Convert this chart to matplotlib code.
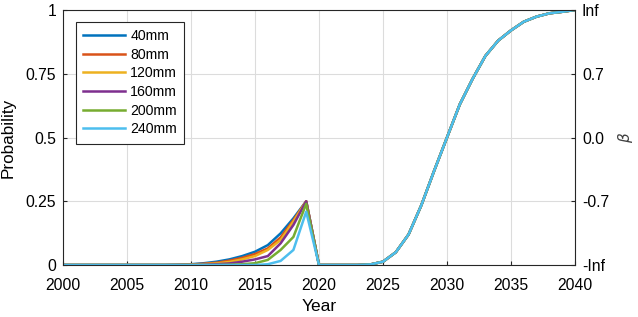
import numpy as np
import matplotlib.pyplot as plt

years = np.arange(2000, 2041)
labels = ["40mm", "80mm", "120mm", "160mm", "200mm", "240mm"]
colors = ["#0072BD", "#D95319", "#EDB120", "#7E2F8E", "#77AC30", "#4DBEEE"]

# 2000-2008 are zero for every series
zeros_early = [0.0] * 9
# 2009 .. 2019 rising part, one list per diameter
rise_40 = [0.001, 0.003, 0.007, 0.013, 0.022, 0.035, 0.052, 0.078, 0.124, 0.183, 0.25]
rise_80 = [0.001, 0.002, 0.005, 0.009, 0.017, 0.028, 0.043, 0.065, 0.108, 0.176, 0.25]
rise_120 = [0.0, 0.001, 0.003, 0.006, 0.012, 0.022, 0.035, 0.059, 0.098, 0.170, 0.25]
rise_160 = [0.0, 0.0, 0.001, 0.003, 0.006, 0.013, 0.022, 0.035, 0.085, 0.157, 0.25]
rise_200 = [0.0, 0.0, 0.0, 0.0, 0.001, 0.003, 0.007, 0.020, 0.059, 0.110, 0.24]
rise_240 = [0.0, 0.0, 0.0, 0.0, 0.0, 0.0, 0.0, 0.003, 0.016, 0.059, 0.209]
# 2020 .. 2040 shared tail
tail = [0.0, 0.0, 0.0, 0.0, 0.002, 0.013, 0.05, 0.12, 0.235, 0.37, 0.5,
        0.63, 0.73, 0.82, 0.88, 0.92, 0.954, 0.974, 0.987, 0.993, 1.0]

rises = [rise_40, rise_80, rise_120, rise_160, rise_200, rise_240]

plt.rcParams['font.family'] = ['Liberation Sans', 'DejaVu Sans']

fig = plt.figure(figsize=(6.38, 3.17), dpi=100)
ax = fig.add_axes([63 / 638, 52 / 317, 512 / 638, 255 / 317])

for lab, col, r in zip(labels, colors, rises):
    ax.plot(years, zeros_early + r + tail, color=col, lw=1.8, label=lab)

ax.set_xlim(2000, 2040)
ax.set_ylim(0, 1)
ax.set_xticks(np.arange(2000, 2041, 5))
ax.set_yticks([0, 0.25, 0.5, 0.75, 1])
ax.set_yticklabels(["0", "0.25", "0.5", "0.75", "1"])
ax.grid(True, color="#dcdcdc", lw=0.8)
ax.tick_params(direction="in", labelsize=11.3, length=3, color="#262626")
ax.tick_params(axis="x", pad=9.5)
ax.tick_params(axis="y", pad=5)
for s in ax.spines.values():
    s.set_color("#262626")
    s.set_linewidth(0.8)
ax.set_xlabel("Year", fontsize=12.5, labelpad=4)
ax.set_ylabel("Probability", fontsize=12.3, labelpad=7)

ax2 = ax.twinx()
ax2.set_ylim(0, 1)
ax2.set_yticks([0, 0.25, 0.5, 0.75, 1])
ax2.set_yticklabels(["-Inf", "-0.7", "0.0", "0.7", "Inf"])
ax2.tick_params(direction="in", labelsize=11.3, length=3, color="#262626", pad=5)
ax2.set_ylabel(r"$\beta$", fontsize=11, labelpad=5, color="#404040")
for s in ax2.spines.values():
    s.set_visible(False)

leg = ax.legend(loc="upper left", bbox_to_anchor=(0.025, 0.953), fontsize=10.2,
                borderaxespad=0, handlelength=3.0, handletextpad=0.35,
                labelspacing=0.33, borderpad=0.5, fancybox=False, framealpha=1,
                edgecolor="#262626")
leg.get_frame().set_linewidth(0.8)

fig.savefig("out.png", dpi=100)
